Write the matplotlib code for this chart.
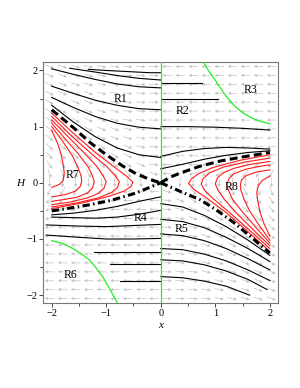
import numpy as np
import matplotlib
matplotlib.use('Agg')
import matplotlib.pyplot as plt

plt.rcParams['font.family'] = ['Liberation Serif', 'DejaVu Serif']

# ---- data: (x, H) points of each trajectory ----
# R1: black curves above the dashed separatrix (left half)
R1_x = [[-1.33, -1.0, -0.6, -0.2, 0.0],
        [-1.67, -1.4, -1.12, -0.8, -0.4, 0.0],
        [-2.0, -1.6, -1.2, -0.8, -0.4, 0.0],
        [-2.0, -1.6, -1.2, -0.8, -0.4, 0.0],
        [-2.0, -1.6, -1.2, -0.8, -0.4, 0.0],
        [-2.0, -1.6, -1.2, -0.8, -0.4, 0.0]]
R1_H = [[2.02, 2.0, 1.98, 1.96, 1.96],
        [2.04, 2.0, 1.96, 1.91, 1.86, 1.83],
        [2.03, 1.93, 1.84, 1.76, 1.71, 1.69],
        [1.72, 1.59, 1.47, 1.38, 1.32, 1.30],
        [1.52, 1.34, 1.18, 1.06, 0.99, 0.96],
        [1.38, 1.08, 0.82, 0.62, 0.50, 0.45]]

# R2: black curves right of x = 0, upper half
R2_x = [[0.0, 0.75],
        [0.0, 1.05],
        [0.0, 0.5, 1.0, 1.5, 2.0],
        [0.0, 0.4, 0.8, 1.2, 1.6, 2.0],
        [0.0, 0.4, 0.8, 1.2, 1.6, 2.0]]
R2_H = [[1.78, 1.78],
        [1.50, 1.50],
        [1.0, 1.0, 0.99, 0.97, 0.94],
        [0.47, 0.56, 0.61, 0.63, 0.62, 0.60],
        [0.25, 0.33, 0.42, 0.49, 0.54, 0.57]]

# R4 / R6: black curves left of x = 0, lower half
R4_x = [[0.0, -0.4, -0.8, -1.2, -1.6, -2.0],
        [0.0, -0.4, -0.8, -1.2, -1.6, -2.0],
        [0.0, -0.5, -1.0, -1.5, -2.1],
        [0.0, -0.5, -1.0, -1.5, -2.1],
        [0.0, -1.22],
        [0.0, -0.94],
        [0.0, -0.75]]
R4_H = [[-0.25, -0.33, -0.42, -0.49, -0.54, -0.57],
        [-0.49, -0.56, -0.61, -0.63, -0.62, -0.61],
        [-0.74, -0.76, -0.78, -0.77, -0.75],
        [-0.99, -1.0, -1.0, -0.97, -0.93],
        [-1.24, -1.24],
        [-1.45, -1.45],
        [-1.74, -1.74]]

# R5: black curves right of x = 0, lower half
R5_x = [[0.0, 0.4, 0.8, 1.2, 1.6, 2.0],
        [0.0, 0.4, 0.8, 1.2, 1.6, 2.0],
        [0.0, 0.4, 0.8, 1.2, 1.6, 2.0],
        [0.0, 0.4, 0.8, 1.2, 1.6, 2.0],
        [0.0, 0.4, 0.8, 1.2, 1.6, 1.95],
        [0.0, 0.4, 0.8, 1.2, 1.63]]
R5_H = [[-0.37, -0.43, -0.58, -0.78, -1.02, -1.29],
        [-0.65, -0.69, -0.80, -0.97, -1.17, -1.40],
        [-0.91, -0.94, -1.03, -1.17, -1.35, -1.55],
        [-1.17, -1.19, -1.27, -1.39, -1.55, -1.74],
        [-1.37, -1.39, -1.46, -1.57, -1.72, -1.90],
        [-1.67, -1.69, -1.75, -1.84, -2.00]]

# R7: red curves (left)
R7_x = [[-2.0, -1.9, -1.83, -1.79, -1.77, -1.79, -1.86, -2.0],
        [-2.0, -1.8, -1.62, -1.52, -1.46, -1.45, -1.48, -1.57, -1.75, -2.0],
        [-2.0, -1.75, -1.5, -1.33, -1.25, -1.22, -1.25, -1.34, -1.55, -1.8, -2.0],
        [-2.0, -1.7, -1.4, -1.18, -1.06, -1.0, -1.04, -1.15, -1.35, -1.65, -2.0],
        [-2.0, -1.6, -1.25, -0.98, -0.84, -0.76, -0.79, -0.9, -1.15, -1.55, -2.0],
        [-2.0, -1.6, -1.2, -0.85, -0.63, -0.51, -0.55, -0.68, -0.95, -1.45, -2.0]]
R7_H = [[0.93, 0.72, 0.52, 0.33, 0.17, 0.04, -0.03, -0.08],
        [1.0, 0.74, 0.48, 0.28, 0.12, 0.03, -0.07, -0.15, -0.21, -0.25],
        [1.06, 0.78, 0.5, 0.28, 0.12, 0.02, -0.09, -0.18, -0.26, -0.30, -0.33],
        [1.12, 0.82, 0.53, 0.30, 0.13, 0.02, -0.09, -0.19, -0.27, -0.34, -0.39],
        [1.18, 0.80, 0.50, 0.28, 0.13, 0.02, -0.08, -0.17, -0.27, -0.36, -0.43],
        [1.24, 0.88, 0.54, 0.28, 0.12, 0.01, -0.07, -0.15, -0.24, -0.36, -0.46]]

# R8: red curves (right)
R8_x = [[2.0, 1.86, 1.79, 1.76, 1.78, 1.82, 1.89, 2.0],
        [2.0, 1.75, 1.57, 1.48, 1.46, 1.47, 1.53, 1.63, 1.8, 2.0],
        [2.0, 1.8, 1.55, 1.34, 1.25, 1.21, 1.24, 1.32, 1.5, 1.75, 2.0],
        [2.0, 1.65, 1.35, 1.15, 1.04, 1.0, 1.05, 1.17, 1.4, 1.7, 2.0],
        [2.0, 1.55, 1.15, 0.9, 0.78, 0.74, 0.8, 0.96, 1.25, 1.6, 2.0],
        [2.0, 1.45, 0.95, 0.69, 0.56, 0.51, 0.61, 0.84, 1.2, 1.6, 2.0]]
R8_H = [[0.12, 0.04, -0.05, -0.17, -0.33, -0.52, -0.72, -0.95],
        [0.23, 0.19, 0.13, 0.05, -0.04, -0.13, -0.30, -0.50, -0.75, -1.02],
        [0.32, 0.29, 0.24, 0.16, 0.07, -0.03, -0.13, -0.30, -0.52, -0.80, -1.07],
        [0.38, 0.33, 0.26, 0.18, 0.09, -0.02, -0.13, -0.30, -0.55, -0.84, -1.12],
        [0.44, 0.37, 0.28, 0.18, 0.08, -0.02, -0.13, -0.28, -0.52, -0.82, -1.17],
        [0.50, 0.40, 0.27, 0.16, 0.07, -0.01, -0.12, -0.27, -0.53, -0.87, -1.22]]

# separatrices
dash_x = [[-2.0, -1.6, -1.3, -1.0, -0.7, -0.45, -0.2, 0.0],
          [0.0, 0.17, 0.35, 0.7, 1.1, 1.5, 2.0]]
dash_H = [[1.30, 0.98, 0.72, 0.50, 0.30, 0.16, 0.06, 0.0],
          [0.0, 0.10, 0.17, 0.29, 0.39, 0.46, 0.54]]
dashdot_x = [[-2.0, -1.6, -1.3, -0.9, -0.45, -0.2, 0.0],
             [0.0, 0.35, 0.72, 1.0, 1.33, 1.65, 2.0]]
dashdot_H = [[-0.50, -0.44, -0.39, -0.31, -0.18, -0.08, 0.0],
             [0.0, -0.15, -0.30, -0.47, -0.70, -0.96, -1.25]]

# green boundary curves
green_x = [[0.78, 0.88, 0.99, 1.1, 1.2, 1.35, 1.5, 1.62, 1.75, 1.88, 2.0],
           [-2.0, -1.8, -1.61, -1.45, -1.3, -1.18, -1.06, -0.93, -0.8]]
green_H = [[2.15, 1.99, 1.84, 1.68, 1.54, 1.37, 1.25, 1.18, 1.12, 1.08, 1.05],
           [-1.03, -1.08, -1.17, -1.27, -1.38, -1.52, -1.68, -1.9, -2.13]]

region_names = ['R1', 'R2', 'R3', 'R4', 'R5', 'R6', 'R7', 'R8']
region_x = [-0.73, 0.40, 1.65, -0.37, 0.39, -1.65, -1.61, 1.30]
region_H = [1.50, 1.27, 1.66, -0.63, -0.82, -1.64, 0.14, -0.07]

xlim = (-2.16, 2.15)
ylim = (-2.14, 2.15)

fig = plt.figure(figsize=(3.0, 3.88), dpi=100)
ax = fig.add_axes([0.1433, 0.219, 0.7833, 0.6211])
ax.set_xlim(*xlim)
ax.set_ylim(*ylim)

# direction field (gray arrows)
nx, ny = 18, 27
gx = xlim[0] + (np.arange(nx) + 0.5) * (xlim[1] - xlim[0]) / nx
gy = ylim[0] + (np.arange(ny) + 0.5) * (ylim[1] - ylim[0]) / ny
X, Y = np.meshgrid(gx, gy)
s = 2 * X * Y / (X**2 + Y**2)
k = 0.177 - 0.207 * s
U = np.sign(X) * (-Y) * 54.5
V = np.sign(X) * (-k * X) * 56.0
L = np.hypot(U, V)
U, V = U / L, V / L
ax.quiver(X, Y, U, V, angles='uv', pivot='mid', units='inches',
          scale_units='inches', scale=1 / 0.095, width=0.007,
          headwidth=5, headlength=5, headaxislength=4.5,
          color='#c4c4c4', zorder=1)

for xs, hs in zip(R1_x + R2_x + R4_x + R5_x, R1_H + R2_H + R4_H + R5_H):
    ax.plot(xs, hs, color='black', lw=0.8, zorder=3)
for xs, hs in zip(R7_x + R8_x, R7_H + R8_H):
    ax.plot(xs, hs, color='#ff1a1a', lw=0.8, zorder=3)
for xs, hs in zip(green_x, green_H):
    ax.plot(xs, hs, color='#22ee22', lw=0.9, zorder=3)
ax.axvline(0, color='#22ee22', lw=0.9, zorder=3)
for xs, hs in zip(dash_x, dash_H):
    ax.plot(xs, hs, color='black', lw=2.2, dashes=(2.6, 1.4), zorder=4)
for xs, hs in zip(dashdot_x, dashdot_H):
    ax.plot(xs, hs, color='black', lw=2.2, dashes=(2.4, 1.1, 0.5, 1.1), zorder=4)

for name, rx, rh in zip(region_names, region_x, region_H):
    ax.text(rx, rh, name, fontsize=8.5, ha='center', va='center', zorder=5)

ax.set_xticks([-2, -1, 0, 1, 2])
ax.set_yticks([-2, -1, 0, 1, 2])
ax.set_xticks([-1.5, -0.5, 0.5, 1.5], minor=True)
ax.set_yticks([-1.5, -0.5, 0.5, 1.5], minor=True)
ax.tick_params(which='both', direction='out', top=False, right=False,
               labelsize=7.5, color='#444444', width=0.7)
ax.tick_params(which='major', length=3, pad=1)
ax.tick_params(which='minor', length=2)
for sp in ax.spines.values():
    sp.set_color('#777777')
    sp.set_linewidth(0.8)

fig.text(20 / 300, 1 - 183 / 388, 'H', fontsize=8, style='italic',
         ha='center', va='center')
fig.text(161 / 300, 1 - 325 / 388, 'x', fontsize=8, style='italic',
         ha='center', va='center')

fig.savefig('out.png', dpi=100)
